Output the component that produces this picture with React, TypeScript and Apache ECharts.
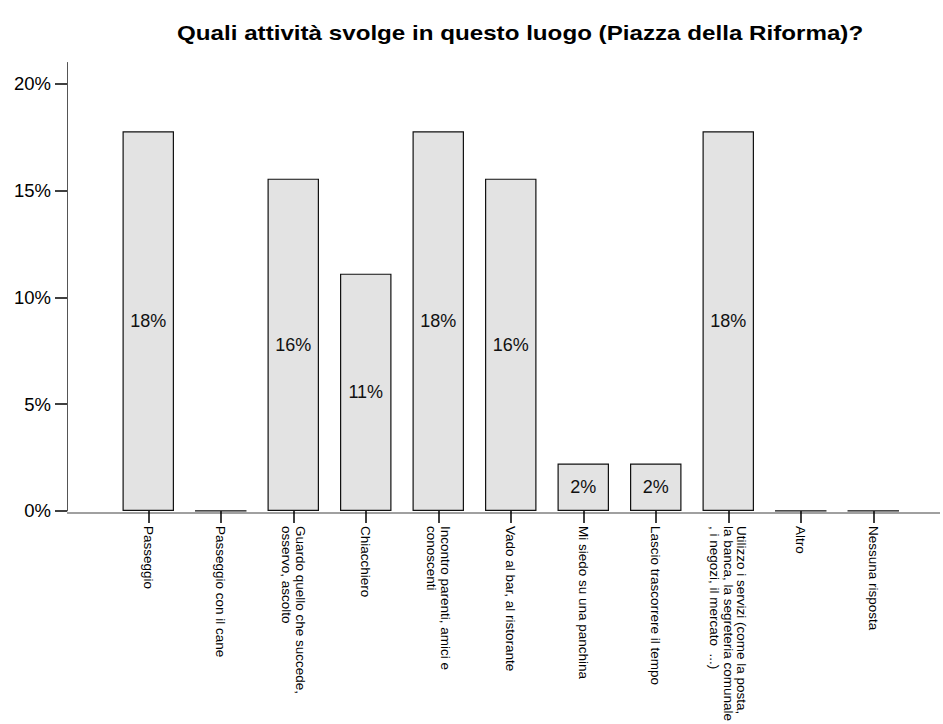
import React, { useEffect, useRef } from "react";
import * as echarts from "echarts";

const titleText = "Quali attività svolge in questo luogo (Piazza della Riforma)?";

const categories = [
  "Passeggio",
  "Passeggio con il cane",
  "Guardo quello che succede,\nosservo, ascolto",
  "Chiacchiero",
  "Incontro parenti, amici e\nconoscenti",
  "Vado al bar, al ristorante",
  "Mi siedo su una panchina",
  "Lascio trascorrere il tempo",
  "Utilizzo i servizi (come la posta,\nla banca, la segreteria comunale\n, i negozi, il mercato  ...)",
  "Altro",
  "Nessuna risposta",
];

const values = [17.78, 0, 15.56, 11.11, 17.78, 15.56, 2.22, 2.22, 17.78, 0, 0];

const yTicks = [0, 5, 10, 15, 20];

const FONT = "'Liberation Sans', Arial, sans-serif";

export default function App() {
  const ref = useRef<HTMLDivElement>(null);
  useEffect(() => {
    if (!ref.current) return;
    const chart = echarts.init(ref.current, undefined, { renderer: "svg" });
    const gridLeft = 112;
    const gridRight = 33.5;
    const gridTop = 62.5;
    const gridBottom = 211;
    const baseY = 724 - gridBottom;
    chart.setOption({
      animation: false,
      backgroundColor: "#ffffff",
      grid: {
        left: gridLeft,
        right: gridRight,
        top: gridTop,
        bottom: gridBottom,
        containLabel: false,
      },
      xAxis: {
        type: "category",
        data: categories,
        axisLine: { show: false },
        axisTick: {
          show: true,
          alignWithLabel: true,
          length: 12,
          lineStyle: { color: "#000", width: 1.5 },
        },
        axisLabel: {
          interval: 0,
          rotate: -90,
          margin: 15,
          fontFamily: FONT,
          fontSize: 13.5,
          lineHeight: 13.5,
          color: "#000",
        },
      },
      yAxis: {
        type: "value",
        min: 0,
        max: 21,
        interval: 5,
        offset: gridLeft - 67,
        splitLine: { show: false },
        axisLine: { show: true, lineStyle: { color: "#555", width: 1 } },
        axisTick: {
          show: true,
          length: 12,
          customValues: yTicks,
          lineStyle: { color: "#000", width: 1.5 },
        },
        axisLabel: {
          customValues: yTicks,
          formatter: (v: number) => `${v}%`,
          margin: 16,
          fontFamily: FONT,
          fontSize: 18.5,
          color: "#000",
        },
      },
      graphic: [
        {
          type: "line",
          z: 0,
          shape: { x1: 67, y1: baseY, x2: 940, y2: baseY },
          style: { stroke: "#808080", lineWidth: 1.5 },
        },
        {
          type: "text",
          x: 177,
          y: 33,
          scaleX: 1.24,
          style: {
            text: titleText,
            fontFamily: FONT,
            fontSize: 19.5,
            fontWeight: "bold",
            fill: "#000",
            align: "left",
            verticalAlign: "middle",
          },
        },
      ],
      series: [
        {
          type: "bar",
          data: values,
          barWidth: "71%",
          z: 3,
          itemStyle: {
            color: "#e3e3e3",
            borderColor: "#111",
            borderWidth: 1.2,
          },
          label: {
            show: true,
            position: "inside",
            formatter: (p: any) => (p.value > 0 ? `${Math.round(p.value)}%` : ""),
            fontFamily: FONT,
            fontSize: 18,
            color: "#111",
          },
        },
      ],
    });
    return () => chart.dispose();
  }, []);
  return (
    <div
      ref={ref}
      style={{ position: "fixed", left: 0, top: 0, width: 943, height: 724 }}
    />
  );
}
